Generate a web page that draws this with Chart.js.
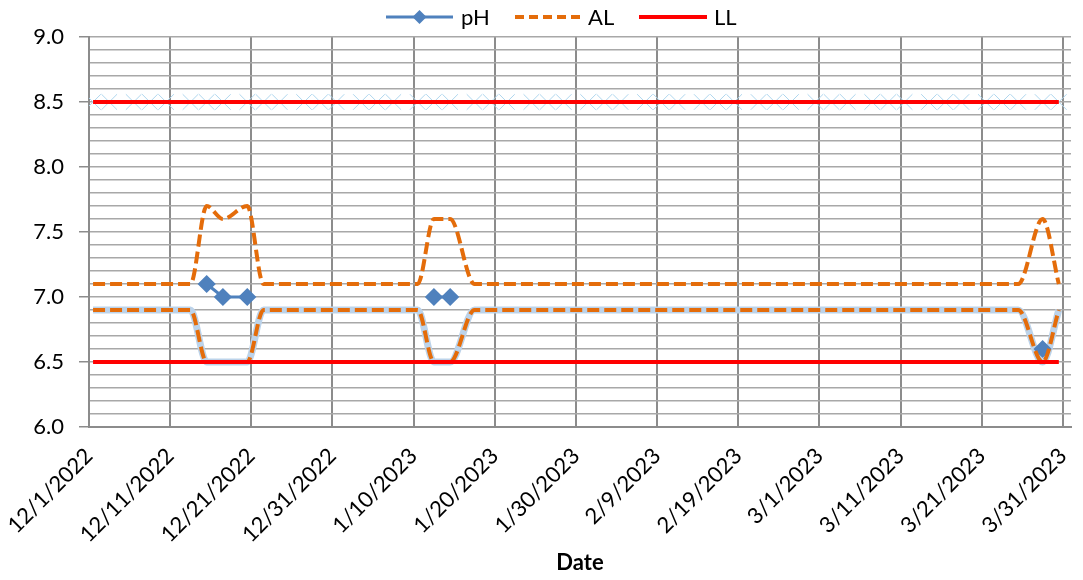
<!DOCTYPE html>
<html>
<head>
<meta charset="utf-8">
<script src="https://cdn.jsdelivr.net/npm/chart.js@4.4.0/dist/chart.umd.min.js"></script>
<style>
  html, body { margin: 0; padding: 0; background: #fff; }
  #wrap { width: 1083px; height: 580px; }
</style>
</head>
<body>
<div id="wrap"><canvas id="phChart" width="1083" height="580"></canvas></div>
<script>
// sampling days (Tue / Thu / Sat)
const sampleDates = [
  "12/1/2022", "12/3/2022", "12/6/2022", "12/8/2022", "12/10/2022", "12/13/2022", "12/15/2022",
  "12/17/2022", "12/20/2022", "12/22/2022", "12/24/2022", "12/27/2022", "12/29/2022", "12/31/2022",
  "1/3/2023", "1/5/2023", "1/7/2023", "1/10/2023", "1/12/2023", "1/14/2023", "1/17/2023",
  "1/19/2023", "1/21/2023", "1/24/2023", "1/26/2023", "1/28/2023", "1/31/2023",
  "2/2/2023", "2/4/2023", "2/7/2023", "2/9/2023", "2/11/2023", "2/14/2023", "2/16/2023",
  "2/18/2023", "2/21/2023", "2/23/2023", "2/25/2023", "2/28/2023",
  "3/2/2023", "3/4/2023", "3/7/2023", "3/9/2023", "3/11/2023", "3/14/2023", "3/16/2023",
  "3/18/2023", "3/21/2023", "3/23/2023", "3/25/2023", "3/28/2023", "3/30/2023"
];

const phValues = [
  null, null, null, null, null, null, 7.1, 7.0, 7.0, null, null, null, null, null,
  null, null, null, null, 7.0, 7.0, null, null, null, null, null, null, null,
  null, null, null, null, null, null, null, null, null, null, null, null,
  null, null, null, null, null, null, null, null, null, null, null, 6.6, null
];

const alUpper = [
  7.1, 7.1, 7.1, 7.1, 7.1, 7.1, 7.7, 7.6, 7.7, 7.1, 7.1, 7.1, 7.1, 7.1,
  7.1, 7.1, 7.1, 7.1, 7.6, 7.6, 7.1, 7.1, 7.1, 7.1, 7.1, 7.1, 7.1,
  7.1, 7.1, 7.1, 7.1, 7.1, 7.1, 7.1, 7.1, 7.1, 7.1, 7.1, 7.1,
  7.1, 7.1, 7.1, 7.1, 7.1, 7.1, 7.1, 7.1, 7.1, 7.1, 7.1, 7.6, 7.1
];

const alLower = [
  6.9, 6.9, 6.9, 6.9, 6.9, 6.9, 6.5, 6.5, 6.5, 6.9, 6.9, 6.9, 6.9, 6.9,
  6.9, 6.9, 6.9, 6.9, 6.5, 6.5, 6.9, 6.9, 6.9, 6.9, 6.9, 6.9, 6.9,
  6.9, 6.9, 6.9, 6.9, 6.9, 6.9, 6.9, 6.9, 6.9, 6.9, 6.9, 6.9,
  6.9, 6.9, 6.9, 6.9, 6.9, 6.9, 6.9, 6.9, 6.9, 6.9, 6.9, 6.5, 6.9
];

const llDates = ["12/1/2022", "3/30/2023"];
const llUpper = [8.5, 8.5];
const llLower = [6.5, 6.5];
const markLevel = 8.5;

const tickDates = [
  "12/1/2022", "12/11/2022", "12/21/2022", "12/31/2022", "1/10/2023", "1/20/2023", "1/30/2023",
  "2/9/2023", "2/19/2023", "3/1/2023", "3/11/2023", "3/21/2023", "3/31/2023"
];

const phColor = "#4f81bd";
const alColor = "#e46c0a";
const llColor = "#ff0000";
const haloColor = "#bcd3ea";
const markColor = "#aed6ee";
const tickFont = { family: "Lato", size: 22 };

function dayNum(s) {
  const [m, d, y] = s.split("/").map(Number);
  return (Date.UTC(y, m - 1, d) - Date.UTC(2022, 11, 1)) / 86400000;
}

// points sit in the middle of their day slot
function pts(dates, values) {
  return dates.map((d, i) => ({ x: dayNum(d) + 0.5, y: values[i] }));
}

function isMajor(v) {
  return Math.abs(v * 2 - Math.round(v * 2)) < 1e-6;
}

const legendPlugin = {
  id: "excelLegend",
  afterDraw(chart) {
    const ctx = chart.ctx;
    const y = 17;
    ctx.save();
    ctx.font = "22px Lato";
    ctx.fillStyle = "#000";
    ctx.textBaseline = "middle";

    // pH
    ctx.strokeStyle = phColor;
    ctx.lineWidth = 3;
    ctx.beginPath(); ctx.moveTo(386, y); ctx.lineTo(453, y); ctx.stroke();
    ctx.fillStyle = phColor;
    ctx.beginPath();
    ctx.moveTo(419.5, y - 7); ctx.lineTo(426.5, y); ctx.lineTo(419.5, y + 7); ctx.lineTo(412.5, y);
    ctx.closePath(); ctx.fill();
    ctx.fillStyle = "#000";
    ctx.fillText("pH", 461, y + 1);

    // AL
    ctx.strokeStyle = alColor;
    ctx.lineWidth = 4;
    ctx.setLineDash([9, 5]);
    ctx.beginPath(); ctx.moveTo(515, y); ctx.lineTo(583, y); ctx.stroke();
    ctx.setLineDash([]);
    ctx.fillText("AL", 588, y + 1);

    // LL
    ctx.strokeStyle = llColor;
    ctx.lineWidth = 4;
    ctx.beginPath(); ctx.moveTo(639, y); ctx.lineTo(707, y); ctx.stroke();
    ctx.fillText("LL", 714, y + 1);
    ctx.restore();
  }
};

const ctx = document.getElementById("phChart").getContext("2d");

new Chart(ctx, {
  type: "line",
  data: {
    datasets: [
      {
        label: "LL", data: pts(llDates, llUpper), order: 0,
        borderColor: llColor, borderWidth: 4, pointRadius: 0
      },
      {
        label: "LL", data: pts(llDates, llLower), order: 1,
        borderColor: llColor, borderWidth: 4, pointRadius: 0
      },
      {
        label: "AL", data: pts(sampleDates, alUpper), order: 2,
        borderColor: alColor, borderWidth: 4, borderDash: [12, 5], pointRadius: 0,
        cubicInterpolationMode: "monotone"
      },
      {
        label: "AL", data: pts(sampleDates, alLower), order: 3,
        borderColor: alColor, borderWidth: 4, borderDash: [12, 5], pointRadius: 0,
        cubicInterpolationMode: "monotone"
      },
      {
        label: "pH", data: pts(sampleDates, phValues), order: 4,
        borderColor: phColor, backgroundColor: phColor, borderWidth: 3,
        pointStyle: "rectRot", pointRadius: 7, spanGaps: false
      },
      {
        label: "halo", data: pts(sampleDates, alLower), order: 5,
        borderColor: haloColor, borderWidth: 7, pointRadius: 0,
        cubicInterpolationMode: "monotone"
      },
      {
        label: "marks", data: pts(sampleDates, sampleDates.map(() => markLevel)), order: 6,
        showLine: false, pointStyle: "crossRot", pointRadius: 11,
        pointBorderColor: markColor, pointBorderWidth: 1
      }
    ]
  },
  options: {
    responsive: false,
    animation: false,
    events: [],
    layout: { padding: { top: 37, right: 5, left: 0, bottom: 0 } },
    plugins: {
      legend: { display: false },
      tooltip: { enabled: false }
    },
    scales: {
      x: {
        type: "linear",
        min: 0,
        max: 121,
        afterBuildTicks: s => { s.ticks = tickDates.map(t => ({ value: dayNum(t) })); },
        afterFit: s => { s.height = 153; s.paddingRight = 0; s.paddingLeft = 0; },
        grid: { color: "#8c8c8c", lineWidth: 2, drawTicks: false },
        border: { color: "#8c8c8c", width: 2 },
        ticks: {
          autoSkip: false, minRotation: 45, maxRotation: 45, padding: 16,
          color: "#000", font: tickFont,
          callback: (v, i) => tickDates[i]
        },
        title: {
          display: true, text: "Date", color: "#000",
          font: { family: "Lato", size: 22, weight: "bold" },
          padding: { top: 4, bottom: 4 }
        }
      },
      y: {
        min: 6,
        max: 9,
        afterFit: s => { s.width = 89; },
        grid: {
          color: "#a8a8a8", lineWidth: 1.5, tickLength: 10,
          tickColor: c => isMajor(c.tick.value) ? "#8c8c8c" : "rgba(0,0,0,0)"
        },
        border: { color: "#8c8c8c", width: 2 },
        ticks: {
          stepSize: 0.1, autoSkip: false, padding: 15,
          color: "#000", font: tickFont,
          callback: v => isMajor(v) ? v.toFixed(1) : ""
        }
      }
    }
  },
  plugins: [legendPlugin]
});
</script>
</body>
</html>
